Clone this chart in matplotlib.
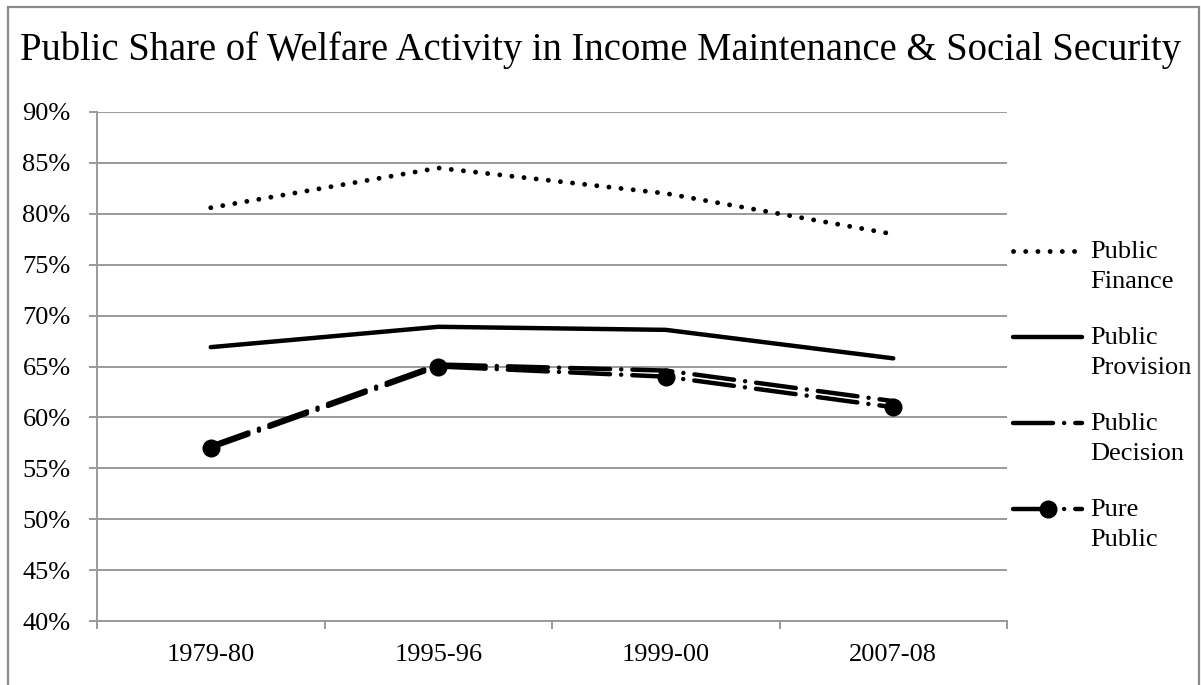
import matplotlib
matplotlib.use("Agg")
import matplotlib.pyplot as plt
from matplotlib.lines import Line2D
from matplotlib.patches import Rectangle
from matplotlib.ticker import FixedLocator, FuncFormatter

plt.rcParams['font.family'] = ['Liberation Serif', 'DejaVu Serif']

# Data (percent)
periods = ["1979-80", "1995-96", "1999-00", "2007-08"]
public_finance = [80.6, 84.5, 82.0, 78.0]
public_provision = [66.9, 68.9, 68.6, 65.8]
public_decision = [57.2, 65.2, 64.6, 61.6]
pure_public = [57.0, 65.0, 64.0, 61.0]
series_labels = ["Public\nFinance", "Public\nProvision", "Public\nDecision", "Pure\nPublic"]
y_ticks = list(range(40, 91, 5))

title = "Public Share of Welfare Activity in Income Maintenance & Social Security"

W, H = 1201, 685
fig = plt.figure(figsize=(W / 100, H / 100), dpi=100)
ax = fig.add_axes([97 / W, 1 - 621 / H, 910 / W, 509 / H])

GRID = "#9a9a9a"
LW = 3.2
FS = 19

styles = [
    dict(color="black", linestyle=(0, (0.01, 2.5)), linewidth=3.5, dash_capstyle="round"),
    dict(color="black", linestyle="-", linewidth=LW, solid_capstyle="round"),
    dict(color="black", linestyle=(0, (9, 2.5, 0.01, 2.5)), linewidth=LW, dash_capstyle="round"),
    dict(color="black", linestyle=(0, (9, 2.5, 0.01, 2.5)), linewidth=LW, dash_capstyle="round",
         marker="o", markersize=13, markeredgewidth=0),
]
series = [public_finance, public_provision, public_decision, pure_public]

xs = list(range(len(periods)))
for vals, st in zip(series, styles):
    ax.plot(xs, vals, zorder=3, **st)

# Axes and grid
ax.set_xlim(-0.5, len(periods) - 0.5)
ax.set_ylim(y_ticks[0], y_ticks[-1])
ax.yaxis.set_major_locator(FixedLocator(y_ticks))
ax.yaxis.set_major_formatter(FuncFormatter(lambda v, p: f"{v:.0f}%"))
ax.xaxis.set_major_locator(FixedLocator(xs))
ax.set_xticklabels(periods)
ax.xaxis.set_minor_locator(FixedLocator([i - 0.5 for i in range(len(periods) + 1)]))

ax.grid(axis="y", color=GRID, linewidth=1.4, zorder=0)
ax.set_axisbelow(True)
for s in ("top", "right"):
    ax.spines[s].set_visible(False)
for s in ("left", "bottom"):
    ax.spines[s].set_color(GRID)
    ax.spines[s].set_linewidth(1.4)

ax.tick_params(axis="y", which="major", length=6, width=1.4, color=GRID,
               labelsize=FS, pad=13)
ax.tick_params(axis="x", which="major", length=0, labelsize=FS, pad=16.5)
ax.tick_params(axis="x", which="minor", length=5.5, width=1.4, color=GRID)

# Title
fig.text(0.5, 1 - 50 / H, title, ha="center", va="center", fontsize=27.8)

# Legend on the right, line sample level with the first line of each label
def fx(px):
    return px / W

def fy(py):
    return 1 - py / H

for i, (lab, st) in enumerate(zip(series_labels, styles)):
    yp = 251 + i * 86
    sample = {k: v for k, v in st.items() if k not in ("marker", "markersize", "markeredgewidth")}
    fig.add_artist(Line2D([fx(1013), fx(1082)], [fy(yp), fy(yp)],
                          transform=fig.transFigure, **sample))
    if "marker" in st:
        fig.add_artist(Line2D([fx(1048)], [fy(yp)], transform=fig.transFigure,
                              marker="o", markersize=st["markersize"], color="black",
                              markeredgewidth=0, linestyle="none"))
    fig.text(fx(1090), fy(yp + 16), lab, ha="left", va="center", fontsize=FS,
             linespacing=1.5)

# Chart border
fig.add_artist(Rectangle((fx(8), fy(692)), fx(1199) - fx(8), fy(7) - fy(692),
                         transform=fig.transFigure, fill=False,
                         edgecolor="#8a8a8a", linewidth=1.6))

fig.savefig("out.png", dpi=100)
